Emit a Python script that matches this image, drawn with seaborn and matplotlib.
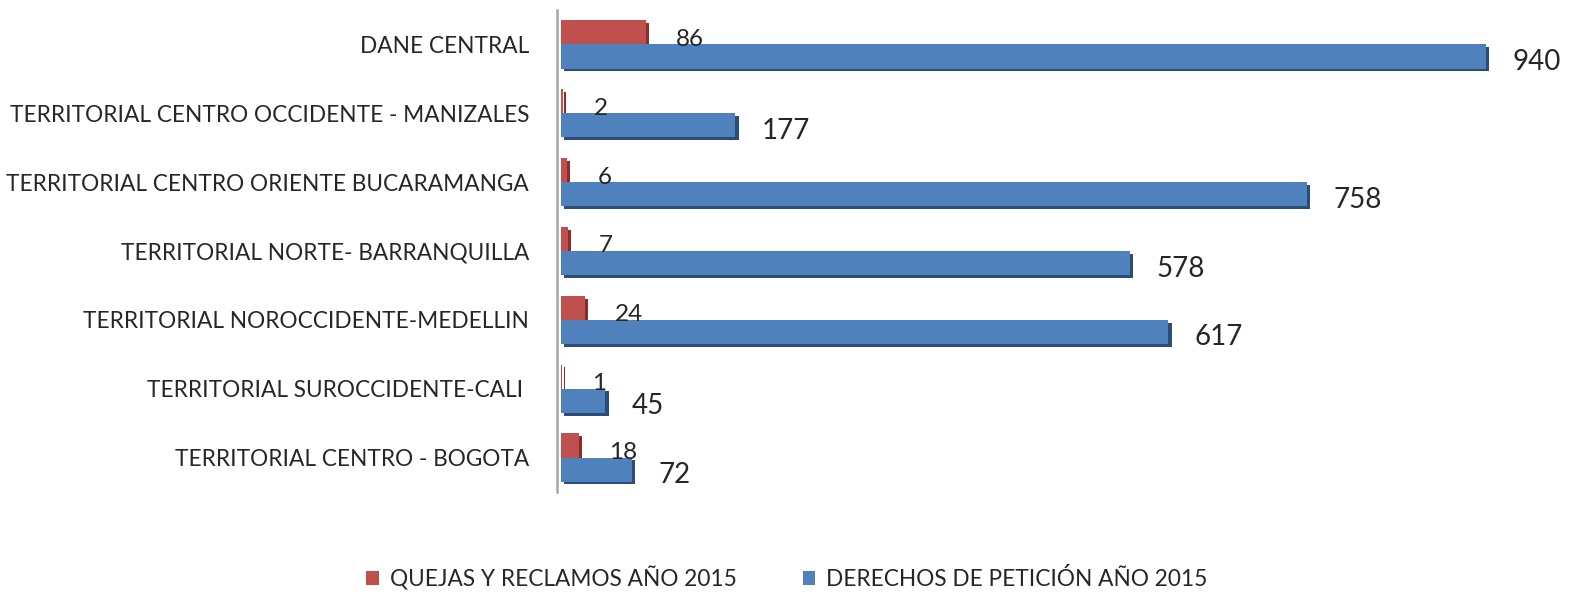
import matplotlib
matplotlib.use("Agg")
import matplotlib.pyplot as plt
import matplotlib.patheffects as pe
import seaborn as sns
import pandas as pd

categories = [
    "DANE CENTRAL",
    "TERRITORIAL CENTRO OCCIDENTE - MANIZALES",
    "TERRITORIAL CENTRO ORIENTE BUCARAMANGA",
    "TERRITORIAL NORTE- BARRANQUILLA",
    "TERRITORIAL NOROCCIDENTE-MEDELLIN",
    "TERRITORIAL SUROCCIDENTE-CALI ",
    "TERRITORIAL CENTRO - BOGOTA",
]
quejas = [86, 2, 6, 7, 24, 1, 18]
derechos = [940, 177, 758, 578, 617, 45, 72]
series_names = ["QUEJAS Y RECLAMOS AÑO 2015", "DERECHOS DE PETICIÓN AÑO 2015"]
colors = ["#C0504D", "#4F81BD"]
shade = ["#8B2E2B", "#2C4D75"]

df = pd.DataFrame({
    "cat": categories * 2,
    "val": quejas + derechos,
    "serie": [series_names[0]] * len(categories) + [series_names[1]] * len(categories),
})

sns.set_theme(style="white")
plt.rcParams["font.family"] = ["Lato", "DejaVu Sans"]

fig = plt.figure(figsize=(15.73, 5.94), dpi=100)
ax = fig.add_axes([561 / 1573, (594 - 492) / 594, 979 / 1573, 482 / 594])

sns.barplot(data=df, y="cat", x="val", hue="serie", hue_order=series_names,
            order=categories, palette=colors, orient="h", width=0.7,
            dodge=True, ax=ax, legend=True, saturation=1, linewidth=0)

ax.set_xlim(0, 995)
ax.set_xlabel("")
ax.set_ylabel("")
ax.set_xticks([])
ax.tick_params(axis="y", labelsize=16.3, colors="#262626", length=0, pad=20)
for s in ["top", "right", "bottom"]:
    ax.spines[s].set_visible(False)
ax.spines["left"].set_color("#A6A6A6")
ax.spines["left"].set_linewidth(1.8)
ax.spines["left"].set_position(("outward", 3))

for i, cont in enumerate(ax.containers):
    for bar in cont:
        bar.set_path_effects([
            pe.SimplePatchShadow(offset=(2.5, -2), shadow_rgbFace=shade[i], alpha=1.0),
            pe.Normal(),
        ])
        w = bar.get_width()
        yc = bar.get_y() + bar.get_height() / 2
        if i == 0:
            ax.annotate(f"{int(w)}", xy=(w, yc), xytext=(22, -5),
                        textcoords="offset points", ha="left", va="center",
                        fontsize=17.5, color="#262626")
        else:
            ax.annotate(f"{int(w)}", xy=(w, yc), xytext=(19, -4),
                        textcoords="offset points", ha="left", va="center",
                        fontsize=20, color="#262626")

leg = ax.get_legend()
handles = leg.legend_handles
leg.remove()
fig.legend(handles, series_names, loc="center", bbox_to_anchor=(787 / 1573, 1 - 578 / 594),
           ncol=2, frameon=False, fontsize=16.3, handlelength=0.55, handleheight=0.55,
           handletextpad=0.5, columnspacing=2.9, labelcolor="#262626")

fig.savefig("out.png", dpi=100, facecolor="white")
